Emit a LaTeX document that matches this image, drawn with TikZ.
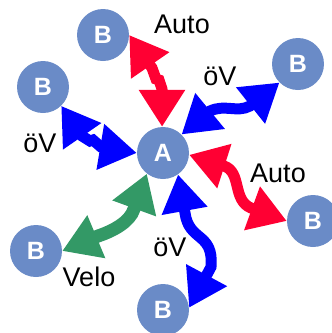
\documentclass[tikz,border=0pt]{standalone}
\usepackage{fontspec}
\setmainfont{Liberation Sans}
\usetikzlibrary{arrows.meta}
\definecolor{nodeblue}{RGB}{106,139,199}
\definecolor{autored}{RGB}{255,0,51}
\definecolor{ovblue}{RGB}{0,0,255}
\definecolor{velogreen}{RGB}{51,153,102}
\begin{document}
\begin{tikzpicture}[x=1pt,y=-1pt,
  place/.style={circle, fill=nodeblue, minimum size=52pt, inner sep=0pt, text=white,
    font=\fontsize{25}{25}\selectfont\bfseries},
  lbl/.style={inner sep=0pt, font=\fontsize{27}{27}\selectfont},
  link/.style={line width=11pt,
    {Triangle[length=37pt,width=44pt]}-{Triangle[length=37pt,width=44pt]}},
]
\clip (0,0) rectangle (332,333);
\node[place] (a) at (163,153) {A};
\node[place] (b1) at (103,35) {B};
\node[place] (b2) at (43,87) {B};
\node[place] (b3) at (298,64) {B};
\node[place] (b4) at (313,221) {B};
\node[place] (b5) at (36,251) {B};
\node[place] (b6) at (163,310) {B};

\draw[link, autored] (b1.0) -- (152,68) -- (156,79) -- (159,80) -- (162,89) -- (a.92);
\draw[link, ovblue] (b2.-46) -- (82,136) -- (90,141) -- (93,140) -- (101,147) -- (a.180);
\draw[link, ovblue] (a.45) -- (210,111) .. controls (225,104) and (237,113) .. (250,106) -- (b3.-135);
\draw[link, velogreen, line width=13pt] (a.-128) -- (134,209) .. controls (130,222) and (113,231) .. (98,236) -- (b5.0);
\draw[link, ovblue] (a.-55) -- (185,213) .. controls (189,242) and (214,232) .. (211,267) -- (b6.5);
\draw[link, autored] (a.-4) -- (224,166) .. controls (242,172) and (232,200) .. (251,208) -- (b4.180);

\node[lbl] (l1) at (182,24) {Auto};
\node[lbl] (l2) at (220,76) {öV};
\node[lbl] (l3) at (40,143) {öV};
\node[lbl] (l4) at (278,173) {Auto};
\node[lbl] (l5) at (89,277) {Velo};
\node[lbl] (l6) at (170,247) {öV};
\end{tikzpicture}
\end{document}
